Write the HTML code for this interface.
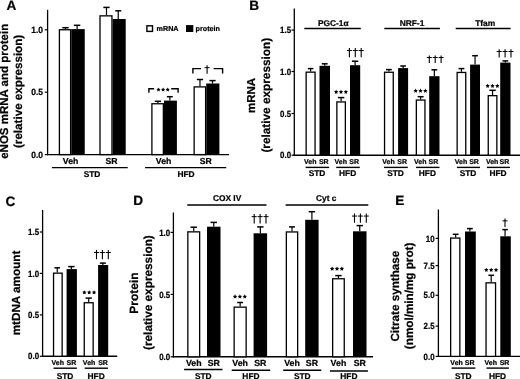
<!DOCTYPE html>
<html><head><meta charset="utf-8"><style>
html,body{margin:0;padding:0;background:#fff;width:520px;height:379px;overflow:hidden}
svg{display:block;will-change:transform}
text{font-family:"Liberation Sans", sans-serif;font-weight:bold;fill:#000;stroke:#000;stroke-width:0.22px;text-rendering:geometricPrecision}
</style></head><body>
<svg width="520" height="379" viewBox="0 0 520 379">
<text x="6.6" y="10.3" font-size="13.6" text-anchor="start" >A</text>
<text transform="translate(7.9,91.3) rotate(-90)" x="0" y="0" font-size="11.5" text-anchor="middle">eNOS mRNA and protein</text>
<text transform="translate(21.8,91.4) rotate(-90)" x="0" y="0" font-size="11.65" text-anchor="middle">(relative expression)</text>
<line x1="47.6" y1="9.8" x2="47.6" y2="155.2" stroke="#000" stroke-width="1.3"/>
<line x1="47.0" y1="154.6" x2="229" y2="154.6" stroke="#000" stroke-width="1.4"/>
<line x1="44.800000000000004" y1="29.8" x2="47.6" y2="29.8" stroke="#000" stroke-width="1.2"/>
<text transform="translate(43.0,32.95) scale(0.94,1)" font-size="9.0" text-anchor="end">1.0</text>
<line x1="44.800000000000004" y1="92.2" x2="47.6" y2="92.2" stroke="#000" stroke-width="1.2"/>
<text transform="translate(43.0,95.35) scale(0.94,1)" font-size="9.0" text-anchor="end">0.5</text>
<line x1="44.800000000000004" y1="154.6" x2="47.6" y2="154.6" stroke="#000" stroke-width="1.2"/>
<text transform="translate(43.0,157.75) scale(0.94,1)" font-size="9.0" text-anchor="end">0.0</text>
<line x1="65.5" y1="29.1" x2="65.5" y2="27.7" stroke="#000" stroke-width="1.2"/>
<line x1="62.3" y1="27.7" x2="68.7" y2="27.7" stroke="#000" stroke-width="1.5"/>
<rect x="59.4" y="29.75" width="11.2" height="124.85" fill="#fff" stroke="#000" stroke-width="1.3"/>
<line x1="77.1" y1="29.1" x2="77.1" y2="25.3" stroke="#000" stroke-width="1.2"/>
<line x1="73.89999999999999" y1="25.3" x2="80.3" y2="25.3" stroke="#000" stroke-width="1.5"/>
<rect x="71.25" y="29.1" width="13.5" height="125.5" fill="#000"/>
<line x1="106.475" y1="15.2" x2="106.475" y2="7.4" stroke="#000" stroke-width="1.2"/>
<line x1="103.32499999999999" y1="7.4" x2="109.625" y2="7.4" stroke="#000" stroke-width="1.5"/>
<rect x="100.0" y="15.85" width="11.95" height="138.75" fill="#fff" stroke="#000" stroke-width="1.3"/>
<line x1="118.25" y1="19.0" x2="118.25" y2="10.8" stroke="#000" stroke-width="1.2"/>
<line x1="115.25" y1="10.8" x2="121.25" y2="10.8" stroke="#000" stroke-width="1.5"/>
<rect x="112.6" y="19.0" width="13.100000000000009" height="135.6" fill="#000"/>
<line x1="157.925" y1="103.1" x2="157.925" y2="101.3" stroke="#000" stroke-width="1.2"/>
<line x1="154.82500000000002" y1="101.3" x2="161.025" y2="101.3" stroke="#000" stroke-width="1.5"/>
<rect x="151.9" y="103.75" width="11.45" height="50.85" fill="#fff" stroke="#000" stroke-width="1.3"/>
<line x1="169.85" y1="100.6" x2="169.85" y2="96.7" stroke="#000" stroke-width="1.2"/>
<line x1="166.9" y1="96.7" x2="172.79999999999998" y2="96.7" stroke="#000" stroke-width="1.5"/>
<rect x="164.0" y="100.6" width="12.900000000000006" height="54.0" fill="#000"/>
<line x1="199.975" y1="86.25" x2="199.975" y2="79.5" stroke="#000" stroke-width="1.2"/>
<line x1="196.875" y1="79.5" x2="203.075" y2="79.5" stroke="#000" stroke-width="1.5"/>
<rect x="194.15" y="86.9" width="11.45" height="67.69999999999999" fill="#fff" stroke="#000" stroke-width="1.3"/>
<line x1="212.52499999999998" y1="83.5" x2="212.52499999999998" y2="80.6" stroke="#000" stroke-width="1.2"/>
<line x1="209.42499999999998" y1="80.6" x2="215.62499999999997" y2="80.6" stroke="#000" stroke-width="1.5"/>
<rect x="206.25" y="83.5" width="13.150000000000006" height="71.1" fill="#000"/>
<path d="M148.9,92.8 V88.8 H154.1 M171.2,88.8 H178.1 V92.8" fill="none" stroke="#000" stroke-width="1.4"/>
<polygon points="158.50,87.40 159.15,88.71 160.59,88.92 159.55,89.94 159.79,91.38 158.50,90.70 157.21,91.38 157.45,89.94 156.41,88.92 157.85,88.71" fill="#000"/>
<polygon points="163.10,87.40 163.75,88.71 165.19,88.92 164.15,89.94 164.39,91.38 163.10,90.70 161.81,91.38 162.05,89.94 161.01,88.92 162.45,88.71" fill="#000"/>
<polygon points="167.70,87.40 168.35,88.71 169.79,88.92 168.75,89.94 168.99,91.38 167.70,90.70 166.41,91.38 166.65,89.94 165.61,88.92 167.05,88.71" fill="#000"/>
<path d="M192.9,73.6 V68.6 H201 M213.7,68.6 H222.6 V73.6" fill="none" stroke="#000" stroke-width="1.4"/>
<path d="M207.1,65.3 L207.1,73.8" stroke="#000" stroke-width="1.1"/>
<path d="M204.6,67.67999999999999 L209.6,67.67999999999999" stroke="#000" stroke-width="1.0"/>
<rect x="146.9" y="25.8" width="5.6" height="5.6" fill="#fff" stroke="#000" stroke-width="1.4"/>
<text x="156.6" y="31.2" font-size="7.2" text-anchor="start" >mRNA</text>
<rect x="186" y="25.1" width="7.3" height="6.9" fill="#000"/>
<text x="195.6" y="31.2" font-size="7.2" text-anchor="start" >protein</text>
<text x="70.6" y="164.4" font-size="8.7" text-anchor="middle" >Veh</text>
<text x="111.6" y="164.4" font-size="8.7" text-anchor="middle" >SR</text>
<text x="163.6" y="164.4" font-size="8.7" text-anchor="middle" >Veh</text>
<text x="205.7" y="164.4" font-size="8.7" text-anchor="middle" >SR</text>
<line x1="51.9" y1="167.6" x2="127.7" y2="167.6" stroke="#000" stroke-width="1.4"/>
<line x1="145.0" y1="167.6" x2="226.2" y2="167.6" stroke="#000" stroke-width="1.4"/>
<text x="92.0" y="176.6" font-size="8.4" text-anchor="middle" >STD</text>
<text x="186.0" y="176.6" font-size="8.4" text-anchor="middle" >HFD</text>
<text x="249.3" y="10.3" font-size="13.6" text-anchor="start" >B</text>
<text transform="translate(255.1,95.5) rotate(-90)" x="0" y="0" font-size="11.5" text-anchor="middle">mRNA</text>
<text transform="translate(270.4,95.2) rotate(-90)" x="0" y="0" font-size="11.8" text-anchor="middle">(relative expression)</text>
<line x1="294.3" y1="8.6" x2="294.3" y2="155.79999999999998" stroke="#000" stroke-width="1.3"/>
<line x1="293.7" y1="155.2" x2="520" y2="155.2" stroke="#000" stroke-width="1.4"/>
<line x1="291.5" y1="30.1" x2="294.3" y2="30.1" stroke="#000" stroke-width="1.2"/>
<text transform="translate(291.1,33.25) scale(0.88,1)" font-size="9.0" text-anchor="end">1.5</text>
<line x1="291.5" y1="71.5" x2="294.3" y2="71.5" stroke="#000" stroke-width="1.2"/>
<text transform="translate(291.1,74.65) scale(0.88,1)" font-size="9.0" text-anchor="end">1.0</text>
<line x1="291.5" y1="113.5" x2="294.3" y2="113.5" stroke="#000" stroke-width="1.2"/>
<text transform="translate(291.1,116.65) scale(0.88,1)" font-size="9.0" text-anchor="end">0.5</text>
<line x1="291.5" y1="155.2" x2="294.3" y2="155.2" stroke="#000" stroke-width="1.2"/>
<text transform="translate(291.1,158.35) scale(0.88,1)" font-size="9.0" text-anchor="end">0.0</text>
<line x1="310.6" y1="71.5" x2="310.6" y2="68.6" stroke="#000" stroke-width="1.2"/>
<line x1="307.8" y1="68.6" x2="313.40000000000003" y2="68.6" stroke="#000" stroke-width="1.5"/>
<rect x="306.15" y="72.15" width="8.899999999999988" height="83.04999999999998" fill="#fff" stroke="#000" stroke-width="1.3"/>
<line x1="324.75" y1="65.8" x2="324.75" y2="63.8" stroke="#000" stroke-width="1.2"/>
<line x1="321.85" y1="63.8" x2="327.65" y2="63.8" stroke="#000" stroke-width="1.5"/>
<rect x="319.5" y="65.8" width="10.5" height="89.39999999999999" fill="#000"/>
<line x1="341.1" y1="101.3" x2="341.1" y2="97.6" stroke="#000" stroke-width="1.2"/>
<line x1="337.90000000000003" y1="97.6" x2="344.3" y2="97.6" stroke="#000" stroke-width="1.5"/>
<rect x="336.84999999999997" y="101.95" width="8.50000000000001" height="53.24999999999999" fill="#fff" stroke="#000" stroke-width="1.3"/>
<line x1="355.1" y1="65.2" x2="355.1" y2="61.2" stroke="#000" stroke-width="1.2"/>
<line x1="351.90000000000003" y1="61.2" x2="358.3" y2="61.2" stroke="#000" stroke-width="1.5"/>
<rect x="350.0" y="65.2" width="10.199999999999989" height="89.99999999999999" fill="#000"/>
<line x1="388.9" y1="71.6" x2="388.9" y2="69.6" stroke="#000" stroke-width="1.2"/>
<line x1="386.0" y1="69.6" x2="391.79999999999995" y2="69.6" stroke="#000" stroke-width="1.5"/>
<rect x="384.54999999999995" y="72.25" width="8.7" height="82.94999999999999" fill="#fff" stroke="#000" stroke-width="1.3"/>
<line x1="403.1" y1="68.1" x2="403.1" y2="66.0" stroke="#000" stroke-width="1.2"/>
<line x1="400.3" y1="66.0" x2="405.90000000000003" y2="66.0" stroke="#000" stroke-width="1.5"/>
<rect x="398.1" y="68.1" width="10.0" height="87.1" fill="#000"/>
<line x1="420.65" y1="99.4" x2="420.65" y2="96.7" stroke="#000" stroke-width="1.2"/>
<line x1="417.65" y1="96.7" x2="423.65" y2="96.7" stroke="#000" stroke-width="1.5"/>
<rect x="416.34999999999997" y="100.05000000000001" width="8.600000000000033" height="55.149999999999984" fill="#fff" stroke="#000" stroke-width="1.3"/>
<line x1="434.35" y1="76.2" x2="434.35" y2="69.8" stroke="#000" stroke-width="1.2"/>
<line x1="431.45000000000005" y1="69.8" x2="437.25" y2="69.8" stroke="#000" stroke-width="1.5"/>
<rect x="429.2" y="76.2" width="10.300000000000011" height="78.99999999999999" fill="#000"/>
<line x1="461.45" y1="71.8" x2="461.45" y2="68.6" stroke="#000" stroke-width="1.2"/>
<line x1="458.55" y1="68.6" x2="464.34999999999997" y2="68.6" stroke="#000" stroke-width="1.5"/>
<rect x="457.15" y="72.45" width="8.599999999999977" height="82.74999999999999" fill="#fff" stroke="#000" stroke-width="1.3"/>
<line x1="475.05" y1="64.6" x2="475.05" y2="55.7" stroke="#000" stroke-width="1.2"/>
<line x1="472.15000000000003" y1="55.7" x2="477.95" y2="55.7" stroke="#000" stroke-width="1.5"/>
<rect x="470.1" y="64.6" width="9.899999999999977" height="90.6" fill="#000"/>
<line x1="492.55" y1="95.0" x2="492.55" y2="90.3" stroke="#000" stroke-width="1.2"/>
<line x1="489.35" y1="90.3" x2="495.75" y2="90.3" stroke="#000" stroke-width="1.5"/>
<rect x="488.25" y="95.65" width="8.599999999999977" height="59.54999999999999" fill="#fff" stroke="#000" stroke-width="1.3"/>
<line x1="505.35" y1="62.6" x2="505.35" y2="60.9" stroke="#000" stroke-width="1.2"/>
<line x1="502.45000000000005" y1="60.9" x2="508.25" y2="60.9" stroke="#000" stroke-width="1.5"/>
<rect x="500.2" y="62.6" width="10.300000000000011" height="92.6" fill="#000"/>
<polygon points="336.15,89.70 336.83,91.07 338.34,91.29 337.24,92.36 337.50,93.86 336.15,93.15 334.80,93.86 335.06,92.36 333.96,91.29 335.47,91.07" fill="#000"/>
<polygon points="341.00,89.70 341.68,91.07 343.19,91.29 342.09,92.36 342.35,93.86 341.00,93.15 339.65,93.86 339.91,92.36 338.81,91.29 340.32,91.07" fill="#000"/>
<polygon points="345.85,89.70 346.53,91.07 348.04,91.29 346.94,92.36 347.20,93.86 345.85,93.15 344.50,93.86 344.76,92.36 343.66,91.29 345.17,91.07" fill="#000"/>
<path d="M349.40000000000003,47.9 L349.40000000000003,57.3" stroke="#000" stroke-width="1.1"/>
<path d="M346.90000000000003,50.532 L351.90000000000003,50.532" stroke="#000" stroke-width="1.0"/>
<path d="M355.3,47.9 L355.3,57.3" stroke="#000" stroke-width="1.1"/>
<path d="M352.8,50.532 L357.8,50.532" stroke="#000" stroke-width="1.0"/>
<path d="M361.2,47.9 L361.2,57.3" stroke="#000" stroke-width="1.1"/>
<path d="M358.7,50.532 L363.7,50.532" stroke="#000" stroke-width="1.0"/>
<polygon points="415.65,88.60 416.33,89.97 417.84,90.19 416.74,91.26 417.00,92.76 415.65,92.05 414.30,92.76 414.56,91.26 413.46,90.19 414.97,89.97" fill="#000"/>
<polygon points="420.50,88.60 421.18,89.97 422.69,90.19 421.59,91.26 421.85,92.76 420.50,92.05 419.15,92.76 419.41,91.26 418.31,90.19 419.82,89.97" fill="#000"/>
<polygon points="425.35,88.60 426.03,89.97 427.54,90.19 426.44,91.26 426.70,92.76 425.35,92.05 424.00,92.76 424.26,91.26 423.16,90.19 424.67,89.97" fill="#000"/>
<path d="M429.3,55.4 L429.3,63.0" stroke="#000" stroke-width="1.1"/>
<path d="M426.8,57.528 L431.8,57.528" stroke="#000" stroke-width="1.0"/>
<path d="M435.2,55.4 L435.2,63.0" stroke="#000" stroke-width="1.1"/>
<path d="M432.7,57.528 L437.7,57.528" stroke="#000" stroke-width="1.0"/>
<path d="M441.09999999999997,55.4 L441.09999999999997,63.0" stroke="#000" stroke-width="1.1"/>
<path d="M438.59999999999997,57.528 L443.59999999999997,57.528" stroke="#000" stroke-width="1.0"/>
<polygon points="487.65,83.70 488.33,85.07 489.84,85.29 488.74,86.36 489.00,87.86 487.65,87.15 486.30,87.86 486.56,86.36 485.46,85.29 486.97,85.07" fill="#000"/>
<polygon points="492.50,83.70 493.18,85.07 494.69,85.29 493.59,86.36 493.85,87.86 492.50,87.15 491.15,87.86 491.41,86.36 490.31,85.29 491.82,85.07" fill="#000"/>
<polygon points="497.35,83.70 498.03,85.07 499.54,85.29 498.44,86.36 498.70,87.86 497.35,87.15 496.00,87.86 496.26,86.36 495.16,85.29 496.67,85.07" fill="#000"/>
<path d="M499.20000000000005,49.2 L499.20000000000005,57.5" stroke="#000" stroke-width="1.1"/>
<path d="M496.70000000000005,51.524 L501.70000000000005,51.524" stroke="#000" stroke-width="1.0"/>
<path d="M505.1,49.2 L505.1,57.5" stroke="#000" stroke-width="1.1"/>
<path d="M502.6,51.524 L507.6,51.524" stroke="#000" stroke-width="1.0"/>
<path d="M511.0,49.2 L511.0,57.5" stroke="#000" stroke-width="1.1"/>
<path d="M508.5,51.524 L513.5,51.524" stroke="#000" stroke-width="1.0"/>
<line x1="304.3" y1="28.4" x2="360.8" y2="28.4" stroke="#000" stroke-width="1.5"/>
<line x1="384.3" y1="28.4" x2="439.9" y2="28.4" stroke="#000" stroke-width="1.5"/>
<line x1="455.7" y1="28.4" x2="510.6" y2="28.4" stroke="#000" stroke-width="1.5"/>
<text x="333.3" y="26.0" font-size="8.4" text-anchor="middle" >PGC-1&#945;</text>
<text x="412.0" y="26.1" font-size="8.4" text-anchor="middle" >NRF-1</text>
<text x="485.2" y="26.1" font-size="8.4" text-anchor="middle" >Tfam</text>
<text x="310.20000000000005" y="164.2" font-size="7.0" text-anchor="middle" >Veh</text>
<text x="323.75" y="164.2" font-size="7.0" text-anchor="middle" >SR</text>
<text x="340.70000000000005" y="164.2" font-size="7.0" text-anchor="middle" >Veh</text>
<text x="354.1" y="164.2" font-size="7.0" text-anchor="middle" >SR</text>
<text x="388.5" y="164.2" font-size="7.0" text-anchor="middle" >Veh</text>
<text x="402.1" y="164.2" font-size="7.0" text-anchor="middle" >SR</text>
<text x="420.25" y="164.2" font-size="7.0" text-anchor="middle" >Veh</text>
<text x="433.35" y="164.2" font-size="7.0" text-anchor="middle" >SR</text>
<text x="461.05" y="164.2" font-size="7.0" text-anchor="middle" >Veh</text>
<text x="474.05" y="164.2" font-size="7.0" text-anchor="middle" >SR</text>
<text x="492.15000000000003" y="164.2" font-size="7.0" text-anchor="middle" >Veh</text>
<text x="504.35" y="164.2" font-size="7.0" text-anchor="middle" >SR</text>
<line x1="305.6" y1="167.4" x2="329.2" y2="167.4" stroke="#000" stroke-width="1.4"/>
<text x="317.0" y="176.4" font-size="8.4" text-anchor="middle" >STD</text>
<line x1="336.2" y1="167.4" x2="359.8" y2="167.4" stroke="#000" stroke-width="1.4"/>
<text x="347.6" y="176.4" font-size="8.4" text-anchor="middle" >HFD</text>
<line x1="384.0" y1="167.4" x2="407.8" y2="167.4" stroke="#000" stroke-width="1.4"/>
<text x="395.5" y="176.4" font-size="8.4" text-anchor="middle" >STD</text>
<line x1="416.0" y1="167.4" x2="439.5" y2="167.4" stroke="#000" stroke-width="1.4"/>
<text x="427.35" y="176.4" font-size="8.4" text-anchor="middle" >HFD</text>
<line x1="456.9" y1="167.4" x2="480.0" y2="167.4" stroke="#000" stroke-width="1.4"/>
<text x="468.05" y="176.4" font-size="8.4" text-anchor="middle" >STD</text>
<line x1="486.9" y1="167.4" x2="510.0" y2="167.4" stroke="#000" stroke-width="1.4"/>
<text x="498.05" y="176.4" font-size="8.4" text-anchor="middle" >HFD</text>
<text x="5.6" y="205.5" font-size="13.6" text-anchor="start" >C</text>
<text transform="translate(20.3,293.0) rotate(-90)" x="0" y="0" font-size="11.7" text-anchor="middle">mtDNA amount</text>
<line x1="42.6" y1="210.0" x2="42.6" y2="356.90000000000003" stroke="#000" stroke-width="1.3"/>
<line x1="42.0" y1="356.3" x2="117.2" y2="356.3" stroke="#000" stroke-width="1.4"/>
<line x1="39.800000000000004" y1="232.0" x2="42.6" y2="232.0" stroke="#000" stroke-width="1.2"/>
<text transform="translate(39.1,235.15) scale(0.88,1)" font-size="9.0" text-anchor="end">1.5</text>
<line x1="39.800000000000004" y1="273.4" x2="42.6" y2="273.4" stroke="#000" stroke-width="1.2"/>
<text transform="translate(39.1,276.55) scale(0.88,1)" font-size="9.0" text-anchor="end">1.0</text>
<line x1="39.800000000000004" y1="314.9" x2="42.6" y2="314.9" stroke="#000" stroke-width="1.2"/>
<text transform="translate(39.1,318.05) scale(0.88,1)" font-size="9.0" text-anchor="end">0.5</text>
<line x1="39.800000000000004" y1="356.3" x2="42.6" y2="356.3" stroke="#000" stroke-width="1.2"/>
<text transform="translate(39.1,359.45) scale(0.88,1)" font-size="9.0" text-anchor="end">0.0</text>
<line x1="57.24999999999999" y1="272.5" x2="57.24999999999999" y2="267.8" stroke="#000" stroke-width="1.2"/>
<line x1="54.449999999999996" y1="267.8" x2="60.04999999999999" y2="267.8" stroke="#000" stroke-width="1.5"/>
<rect x="53.55" y="273.15" width="8.599999999999998" height="83.15" fill="#fff" stroke="#000" stroke-width="1.3"/>
<line x1="71.35" y1="269.1" x2="71.35" y2="266.6" stroke="#000" stroke-width="1.2"/>
<line x1="68.14999999999999" y1="266.6" x2="74.55" y2="266.6" stroke="#000" stroke-width="1.5"/>
<rect x="66.6" y="269.1" width="10.300000000000011" height="87.19999999999999" fill="#000"/>
<line x1="88.69999999999999" y1="302.1" x2="88.69999999999999" y2="298.1" stroke="#000" stroke-width="1.2"/>
<line x1="85.54999999999998" y1="298.1" x2="91.85" y2="298.1" stroke="#000" stroke-width="1.5"/>
<rect x="84.25" y="302.75" width="8.900000000000002" height="53.54999999999999" fill="#fff" stroke="#000" stroke-width="1.3"/>
<line x1="102.85000000000001" y1="265.0" x2="102.85000000000001" y2="263.1" stroke="#000" stroke-width="1.2"/>
<line x1="99.85000000000001" y1="263.1" x2="105.85000000000001" y2="263.1" stroke="#000" stroke-width="1.5"/>
<rect x="98.1" y="265.0" width="10.100000000000009" height="91.30000000000001" fill="#000"/>
<polygon points="84.35,290.20 85.03,291.57 86.54,291.79 85.44,292.86 85.70,294.36 84.35,293.65 83.00,294.36 83.26,292.86 82.16,291.79 83.67,291.57" fill="#000"/>
<polygon points="89.20,290.20 89.88,291.57 91.39,291.79 90.29,292.86 90.55,294.36 89.20,293.65 87.85,294.36 88.11,292.86 87.01,291.79 88.52,291.57" fill="#000"/>
<polygon points="94.05,290.20 94.73,291.57 96.24,291.79 95.14,292.86 95.40,294.36 94.05,293.65 92.70,294.36 92.96,292.86 91.86,291.79 93.37,291.57" fill="#000"/>
<path d="M96.5,249.9 L96.5,259.2" stroke="#000" stroke-width="1.1"/>
<path d="M94.0,252.504 L99.0,252.504" stroke="#000" stroke-width="1.0"/>
<path d="M102.4,249.9 L102.4,259.2" stroke="#000" stroke-width="1.1"/>
<path d="M99.9,252.504 L104.9,252.504" stroke="#000" stroke-width="1.0"/>
<path d="M108.30000000000001,249.9 L108.30000000000001,259.2" stroke="#000" stroke-width="1.1"/>
<path d="M105.80000000000001,252.504 L110.80000000000001,252.504" stroke="#000" stroke-width="1.0"/>
<text x="57.8" y="364.5" font-size="7.0" text-anchor="middle" >Veh</text>
<text x="71.4" y="364.5" font-size="7.0" text-anchor="middle" >SR</text>
<text x="89.1" y="364.5" font-size="7.0" text-anchor="middle" >Veh</text>
<text x="103.0" y="364.5" font-size="7.0" text-anchor="middle" >SR</text>
<line x1="53.5" y1="368.2" x2="76.9" y2="368.2" stroke="#000" stroke-width="1.4"/>
<text x="65.0" y="378.8" font-size="8.4" text-anchor="middle" >STD</text>
<line x1="84.7" y1="368.2" x2="108.0" y2="368.2" stroke="#000" stroke-width="1.4"/>
<text x="96.14999999999999" y="378.8" font-size="8.4" text-anchor="middle" >HFD</text>
<text x="133.2" y="205.3" font-size="13.6" text-anchor="start" >D</text>
<text transform="translate(137.5,293.0) rotate(-90)" x="0" y="0" font-size="12.0" text-anchor="middle">Protein</text>
<text transform="translate(152.3,292.6) rotate(-90)" x="0" y="0" font-size="11.8" text-anchor="middle">(relative expression)</text>
<line x1="173.4" y1="212.5" x2="173.4" y2="357.40000000000003" stroke="#000" stroke-width="1.3"/>
<line x1="172.8" y1="356.8" x2="373.1" y2="356.8" stroke="#000" stroke-width="1.4"/>
<line x1="170.6" y1="232.4" x2="173.4" y2="232.4" stroke="#000" stroke-width="1.2"/>
<text transform="translate(170.20000000000002,235.55) scale(0.88,1)" font-size="9.0" text-anchor="end">1.0</text>
<line x1="170.6" y1="294.4" x2="173.4" y2="294.4" stroke="#000" stroke-width="1.2"/>
<text transform="translate(170.20000000000002,297.55) scale(0.88,1)" font-size="9.0" text-anchor="end">0.5</text>
<line x1="170.6" y1="356.8" x2="173.4" y2="356.8" stroke="#000" stroke-width="1.2"/>
<text transform="translate(170.20000000000002,359.95) scale(0.88,1)" font-size="9.0" text-anchor="end">0.0</text>
<line x1="193.75" y1="231.2" x2="193.75" y2="227.2" stroke="#000" stroke-width="1.2"/>
<line x1="190.55" y1="227.2" x2="196.95" y2="227.2" stroke="#000" stroke-width="1.5"/>
<rect x="187.85" y="231.85" width="11.800000000000022" height="124.95000000000002" fill="#fff" stroke="#000" stroke-width="1.3"/>
<line x1="213.75" y1="226.7" x2="213.75" y2="222.4" stroke="#000" stroke-width="1.2"/>
<line x1="210.55" y1="222.4" x2="216.95" y2="222.4" stroke="#000" stroke-width="1.5"/>
<rect x="207.0" y="226.7" width="13.5" height="130.10000000000002" fill="#000"/>
<line x1="240.15" y1="306.5" x2="240.15" y2="302.5" stroke="#000" stroke-width="1.2"/>
<line x1="237.20000000000002" y1="302.5" x2="243.1" y2="302.5" stroke="#000" stroke-width="1.5"/>
<rect x="234.15" y="307.15" width="12.00000000000001" height="49.65000000000001" fill="#fff" stroke="#000" stroke-width="1.3"/>
<line x1="260.35" y1="233.3" x2="260.35" y2="226.9" stroke="#000" stroke-width="1.2"/>
<line x1="257.15000000000003" y1="226.9" x2="263.55" y2="226.9" stroke="#000" stroke-width="1.5"/>
<rect x="253.6" y="233.3" width="13.500000000000028" height="123.5" fill="#000"/>
<line x1="292.0" y1="231.3" x2="292.0" y2="226.9" stroke="#000" stroke-width="1.2"/>
<line x1="289.0" y1="226.9" x2="295.0" y2="226.9" stroke="#000" stroke-width="1.5"/>
<rect x="286.34999999999997" y="231.95000000000002" width="11.300000000000022" height="124.85" fill="#fff" stroke="#000" stroke-width="1.3"/>
<line x1="311.9" y1="219.8" x2="311.9" y2="211.7" stroke="#000" stroke-width="1.2"/>
<line x1="308.7" y1="211.7" x2="315.09999999999997" y2="211.7" stroke="#000" stroke-width="1.5"/>
<rect x="305.2" y="219.8" width="13.400000000000034" height="137.0" fill="#000"/>
<line x1="338.45" y1="278.1" x2="338.45" y2="275.6" stroke="#000" stroke-width="1.2"/>
<line x1="335.2" y1="275.6" x2="341.7" y2="275.6" stroke="#000" stroke-width="1.5"/>
<rect x="332.65" y="278.75" width="11.599999999999977" height="78.04999999999998" fill="#fff" stroke="#000" stroke-width="1.3"/>
<line x1="359.75" y1="231.3" x2="359.75" y2="225.6" stroke="#000" stroke-width="1.2"/>
<line x1="356.55" y1="225.6" x2="362.95" y2="225.6" stroke="#000" stroke-width="1.5"/>
<rect x="353.0" y="231.3" width="13.5" height="125.5" fill="#000"/>
<polygon points="235.05,294.30 235.73,295.67 237.24,295.89 236.14,296.96 236.40,298.46 235.05,297.75 233.70,298.46 233.96,296.96 232.86,295.89 234.37,295.67" fill="#000"/>
<polygon points="239.90,294.30 240.58,295.67 242.09,295.89 240.99,296.96 241.25,298.46 239.90,297.75 238.55,298.46 238.81,296.96 237.71,295.89 239.22,295.67" fill="#000"/>
<polygon points="244.75,294.30 245.43,295.67 246.94,295.89 245.84,296.96 246.10,298.46 244.75,297.75 243.40,298.46 243.66,296.96 242.56,295.89 244.07,295.67" fill="#000"/>
<path d="M254.20000000000002,214.0 L254.20000000000002,223.4" stroke="#000" stroke-width="1.1"/>
<path d="M251.70000000000002,216.632 L256.70000000000005,216.632" stroke="#000" stroke-width="1.0"/>
<path d="M260.1,214.0 L260.1,223.4" stroke="#000" stroke-width="1.1"/>
<path d="M257.6,216.632 L262.6,216.632" stroke="#000" stroke-width="1.0"/>
<path d="M266.0,214.0 L266.0,223.4" stroke="#000" stroke-width="1.1"/>
<path d="M263.5,216.632 L268.5,216.632" stroke="#000" stroke-width="1.0"/>
<polygon points="332.15,266.50 332.83,267.87 334.34,268.09 333.24,269.16 333.50,270.66 332.15,269.95 330.80,270.66 331.06,269.16 329.96,268.09 331.47,267.87" fill="#000"/>
<polygon points="337.00,266.50 337.68,267.87 339.19,268.09 338.09,269.16 338.35,270.66 337.00,269.95 335.65,270.66 335.91,269.16 334.81,268.09 336.32,267.87" fill="#000"/>
<polygon points="341.85,266.50 342.53,267.87 344.04,268.09 342.94,269.16 343.20,270.66 341.85,269.95 340.50,270.66 340.76,269.16 339.66,268.09 341.17,267.87" fill="#000"/>
<path d="M354.5,213.5 L354.5,222.7" stroke="#000" stroke-width="1.1"/>
<path d="M352.0,216.076 L357.0,216.076" stroke="#000" stroke-width="1.0"/>
<path d="M360.4,213.5 L360.4,222.7" stroke="#000" stroke-width="1.1"/>
<path d="M357.9,216.076 L362.9,216.076" stroke="#000" stroke-width="1.0"/>
<path d="M366.29999999999995,213.5 L366.29999999999995,222.7" stroke="#000" stroke-width="1.1"/>
<path d="M363.79999999999995,216.076 L368.79999999999995,216.076" stroke="#000" stroke-width="1.0"/>
<line x1="187.3" y1="205.1" x2="266.5" y2="205.1" stroke="#000" stroke-width="1.5"/>
<text x="227.1" y="200.7" font-size="8.4" text-anchor="middle" >COX IV</text>
<line x1="285.6" y1="204.9" x2="368.3" y2="204.9" stroke="#000" stroke-width="1.5"/>
<text x="326.3" y="200.7" font-size="8.4" text-anchor="middle" >Cyt c</text>
<text x="193.75" y="366.3" font-size="8.8" text-anchor="middle" >Veh</text>
<text x="213.75" y="366.3" font-size="8.8" text-anchor="middle" >SR</text>
<text x="240.15" y="366.3" font-size="8.8" text-anchor="middle" >Veh</text>
<text x="260.35" y="366.3" font-size="8.8" text-anchor="middle" >SR</text>
<text x="292.0" y="366.3" font-size="8.8" text-anchor="middle" >Veh</text>
<text x="311.9" y="366.3" font-size="8.8" text-anchor="middle" >SR</text>
<text x="338.45" y="366.3" font-size="8.8" text-anchor="middle" >Veh</text>
<text x="359.75" y="366.3" font-size="8.8" text-anchor="middle" >SR</text>
<line x1="184.1" y1="369.5" x2="222.5" y2="369.5" stroke="#000" stroke-width="1.5"/>
<text x="203.3" y="378.6" font-size="8.4" text-anchor="middle" >STD</text>
<line x1="231.7" y1="370.3" x2="270.2" y2="370.3" stroke="#000" stroke-width="1.5"/>
<text x="250.95" y="378.6" font-size="8.4" text-anchor="middle" >HFD</text>
<line x1="283.2" y1="370.3" x2="321.3" y2="370.3" stroke="#000" stroke-width="1.5"/>
<text x="302.25" y="378.6" font-size="8.4" text-anchor="middle" >STD</text>
<line x1="329.9" y1="371.0" x2="367.9" y2="371.0" stroke="#000" stroke-width="1.5"/>
<text x="348.9" y="378.6" font-size="8.4" text-anchor="middle" >HFD</text>
<text x="395.2" y="205.3" font-size="13.6" text-anchor="start" >E</text>
<text transform="translate(399.4,296.1) rotate(-90)" x="0" y="0" font-size="11.7" text-anchor="middle">Citrate synthase</text>
<text transform="translate(413.1,295.9) rotate(-90)" x="0" y="0" font-size="11.7" text-anchor="middle">(nmol/min/mg prot)</text>
<line x1="438.4" y1="209.5" x2="438.4" y2="357.0" stroke="#000" stroke-width="1.3"/>
<line x1="437.79999999999995" y1="356.4" x2="520" y2="356.4" stroke="#000" stroke-width="1.4"/>
<line x1="435.59999999999997" y1="238.4" x2="438.4" y2="238.4" stroke="#000" stroke-width="1.2"/>
<text transform="translate(434.59999999999997,241.55) scale(0.88,1)" font-size="9.0" text-anchor="end">10</text>
<line x1="435.59999999999997" y1="265.6" x2="438.4" y2="265.6" stroke="#000" stroke-width="1.2"/>
<text transform="translate(434.59999999999997,268.75) scale(0.88,1)" font-size="9.0" text-anchor="end">7.5</text>
<line x1="435.59999999999997" y1="295.3" x2="438.4" y2="295.3" stroke="#000" stroke-width="1.2"/>
<text transform="translate(434.59999999999997,298.45) scale(0.88,1)" font-size="9.0" text-anchor="end">5.0</text>
<line x1="435.59999999999997" y1="326.1" x2="438.4" y2="326.1" stroke="#000" stroke-width="1.2"/>
<text transform="translate(434.59999999999997,329.25) scale(0.88,1)" font-size="9.0" text-anchor="end">2.5</text>
<line x1="435.59999999999997" y1="356.4" x2="438.4" y2="356.4" stroke="#000" stroke-width="1.2"/>
<text transform="translate(434.59999999999997,359.55) scale(0.88,1)" font-size="9.0" text-anchor="end">0.0</text>
<line x1="455.65" y1="237.4" x2="455.65" y2="234.3" stroke="#000" stroke-width="1.2"/>
<line x1="452.75" y1="234.3" x2="458.54999999999995" y2="234.3" stroke="#000" stroke-width="1.5"/>
<rect x="450.65" y="238.05" width="9.2" height="118.34999999999997" fill="#fff" stroke="#000" stroke-width="1.3"/>
<line x1="469.9" y1="231.5" x2="469.9" y2="228.6" stroke="#000" stroke-width="1.2"/>
<line x1="467.0" y1="228.6" x2="472.79999999999995" y2="228.6" stroke="#000" stroke-width="1.5"/>
<rect x="465.0" y="231.5" width="10.800000000000011" height="124.89999999999998" fill="#000"/>
<line x1="491.19999999999993" y1="282.2" x2="491.19999999999993" y2="275.3" stroke="#000" stroke-width="1.2"/>
<line x1="488.3999999999999" y1="275.3" x2="493.99999999999994" y2="275.3" stroke="#000" stroke-width="1.5"/>
<rect x="486.04999999999995" y="282.84999999999997" width="9.50000000000001" height="73.54999999999998" fill="#fff" stroke="#000" stroke-width="1.3"/>
<line x1="505.05" y1="236.3" x2="505.05" y2="229.6" stroke="#000" stroke-width="1.2"/>
<line x1="502.25" y1="229.6" x2="507.85" y2="229.6" stroke="#000" stroke-width="1.5"/>
<rect x="500.3" y="236.3" width="10.5" height="120.09999999999997" fill="#000"/>
<polygon points="486.35,267.70 487.03,269.07 488.54,269.29 487.44,270.36 487.70,271.86 486.35,271.15 485.00,271.86 485.26,270.36 484.16,269.29 485.67,269.07" fill="#000"/>
<polygon points="491.20,267.70 491.88,269.07 493.39,269.29 492.29,270.36 492.55,271.86 491.20,271.15 489.85,271.86 490.11,270.36 489.01,269.29 490.52,269.07" fill="#000"/>
<polygon points="496.05,267.70 496.73,269.07 498.24,269.29 497.14,270.36 497.40,271.86 496.05,271.15 494.70,271.86 494.96,270.36 493.86,269.29 495.37,269.07" fill="#000"/>
<path d="M505.0,218.5 L505.0,226.9" stroke="#000" stroke-width="1.1"/>
<path d="M502.5,220.852 L507.5,220.852" stroke="#000" stroke-width="1.0"/>
<text x="456.6" y="364.6" font-size="7.0" text-anchor="middle" >Veh</text>
<text x="469.6" y="364.6" font-size="7.0" text-anchor="middle" >SR</text>
<text x="490.8" y="364.6" font-size="7.0" text-anchor="middle" >Veh</text>
<text x="504.5" y="364.6" font-size="7.0" text-anchor="middle" >SR</text>
<line x1="451.5" y1="368.1" x2="475.4" y2="368.1" stroke="#000" stroke-width="1.4"/>
<text x="463.25" y="379.3" font-size="8.4" text-anchor="middle" >STD</text>
<line x1="486.5" y1="368.1" x2="508.9" y2="368.1" stroke="#000" stroke-width="1.4"/>
<text x="497.5" y="379.3" font-size="8.4" text-anchor="middle" >HFD</text>
</svg>
</body></html>
